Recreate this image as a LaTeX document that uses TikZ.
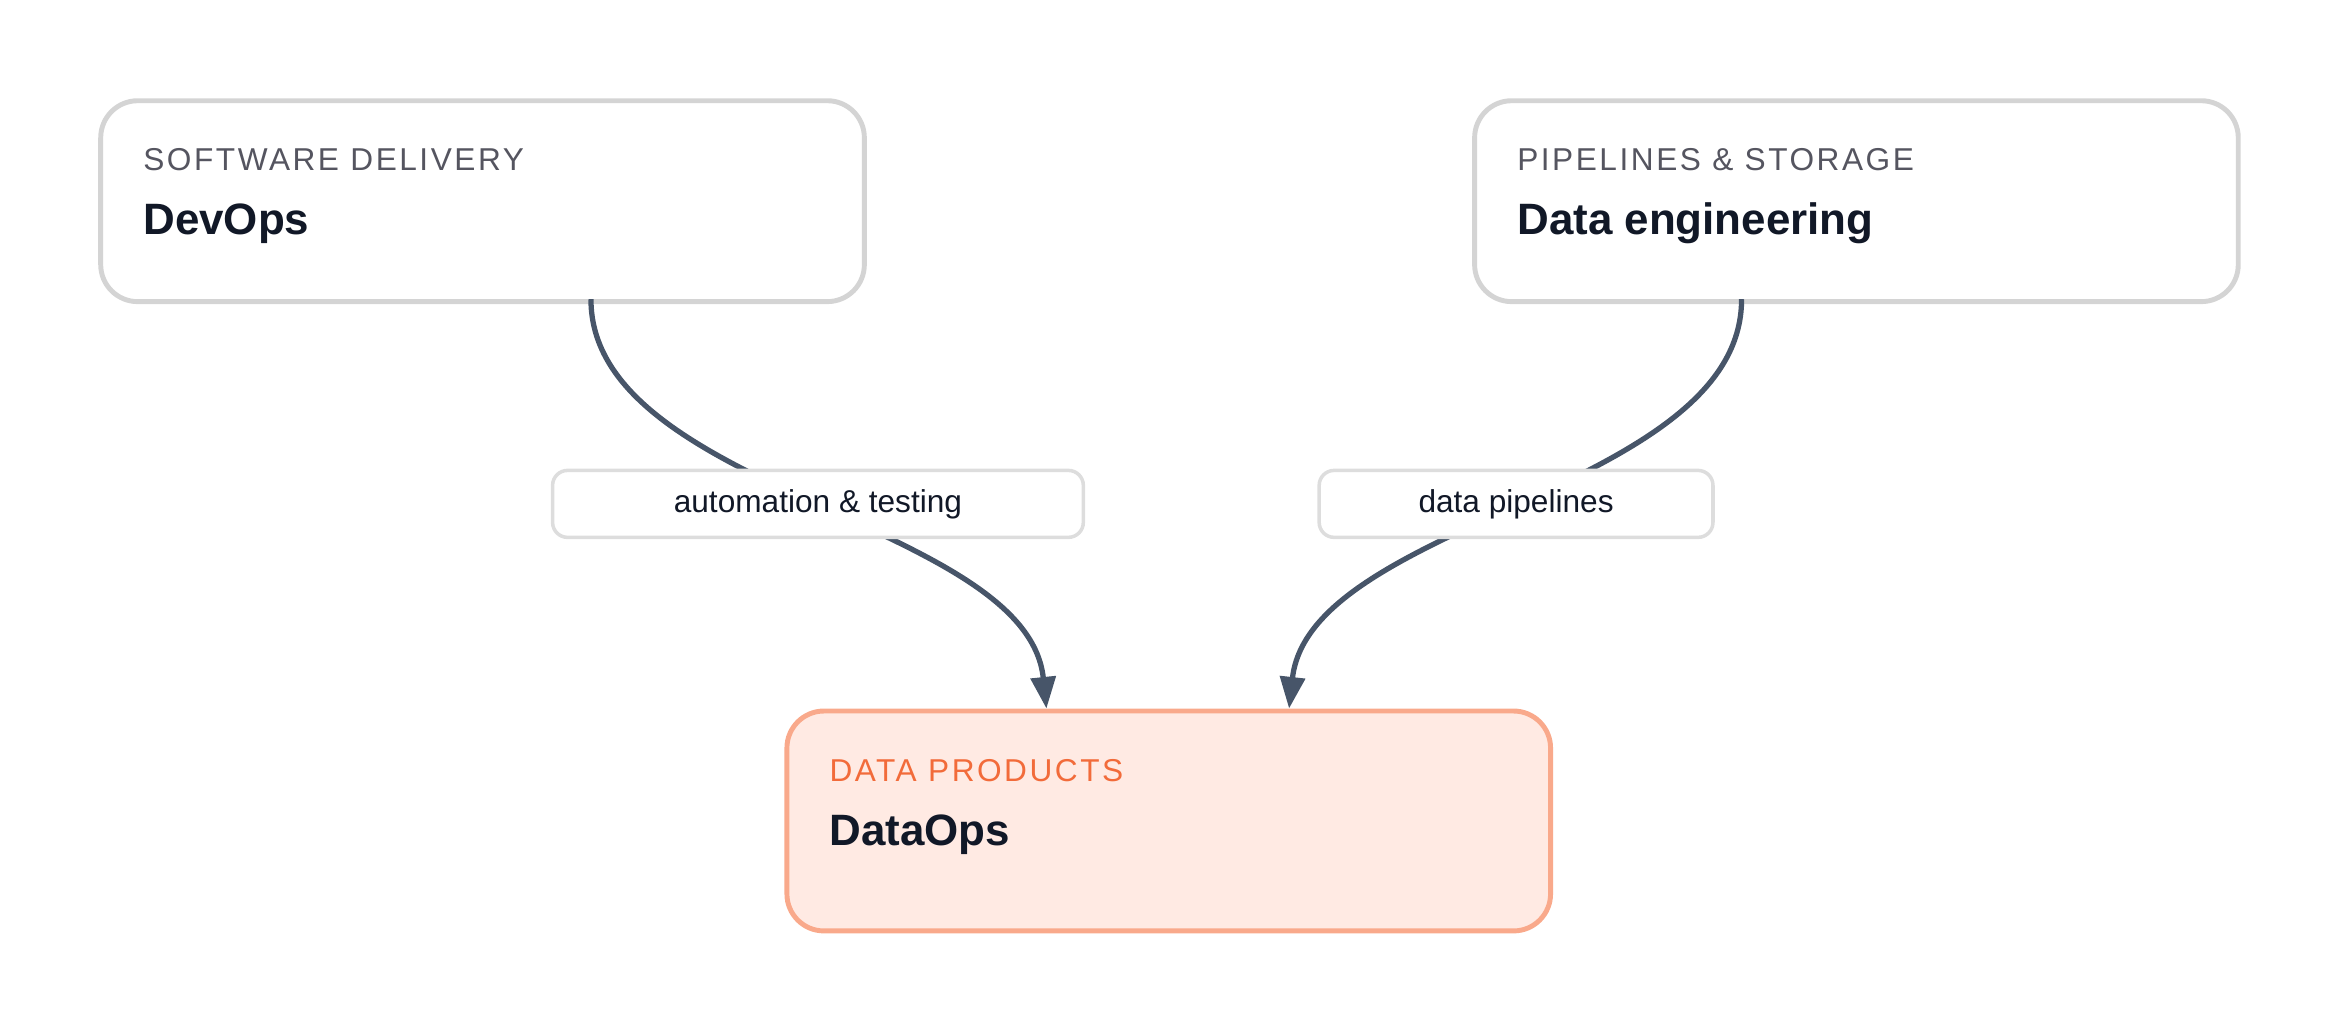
\documentclass[tikz,border=0pt]{standalone}
\usepackage{fontspec}
\setmainfont{Liberation Sans}
\usetikzlibrary{arrows.meta,positioning}
\definecolor{edgegray}{HTML}{D4D4D4}
\definecolor{capgray}{HTML}{555560}
\definecolor{inkdark}{HTML}{111827}
\definecolor{linkslate}{HTML}{475569}
\definecolor{prodfill}{HTML}{FFEAE3}
\definecolor{prodedge}{HTML}{F9A98B}
\definecolor{prodtext}{HTML}{F26B3A}
\tikzstyle{card}=[draw=edgegray,line width=1.4pt,fill=white,rounded corners=0.37cm,
  minimum width=7.64cm,minimum height=2.01cm,anchor=north west]
\tikzstyle{prod}=[card,draw=prodedge,fill=prodfill,minimum height=2.2cm]
\tikzstyle{tag}=[draw=edgegray!80,line width=1pt,fill=white,rounded corners=0.15cm,
  minimum height=0.67cm,font=\fontsize{9}{10}\selectfont,text=inkdark]
\tikzstyle{link}=[-{Triangle[width=7pt,length=9pt]},linkslate,line width=1.5pt]
\tikzstyle{caps}=[anchor=west,font=\fontsize{9}{10}\selectfont\addfontfeatures{LetterSpace=8},text=capgray]
\tikzstyle{head}=[anchor=west,font=\fontsize{12.5}{14}\selectfont\bfseries,text=inkdark]

\begin{document}
\begin{tikzpicture}[x=0.014885cm,y=-0.014885cm]
  \useasboundingbox (0,0) rectangle (1568,690);

  \node[card] (dev) at (66,66) {};
  \node[card] (eng) at (989,66) {};
  \node[prod] (ops) at (527,476) {};

  \node[caps] at (88,107) {SOFTWARE DELIVERY};
  \node[head] at (88,150) {DevOps};
  \node[caps] at (1011,107) {PIPELINES \& STORAGE};
  \node[head] at (1011,150) {Data engineering};
  \node[caps,text=prodtext] at (549,518) {DATA PRODUCTS};
  \node[head] at (549,561) {DataOps};

  \coordinate (devout) at (397,201);
  \coordinate (engout) at (1170,201);
  \coordinate (opsinl) at (703,476);
  \coordinate (opsinr) at (866,476);

  \draw[link] (devout) .. controls (397,330) and (690,350) .. (opsinl);
  \draw[link] (engout) .. controls (1170,330) and (880,350) .. (opsinr);

  \node[tag,minimum width=5.31cm] (auto) at (549.5,338.5) {automation \& testing};
  \node[tag,minimum width=3.94cm] (pipe) at (1018.5,338.5) {data pipelines};
\end{tikzpicture}
\end{document}
